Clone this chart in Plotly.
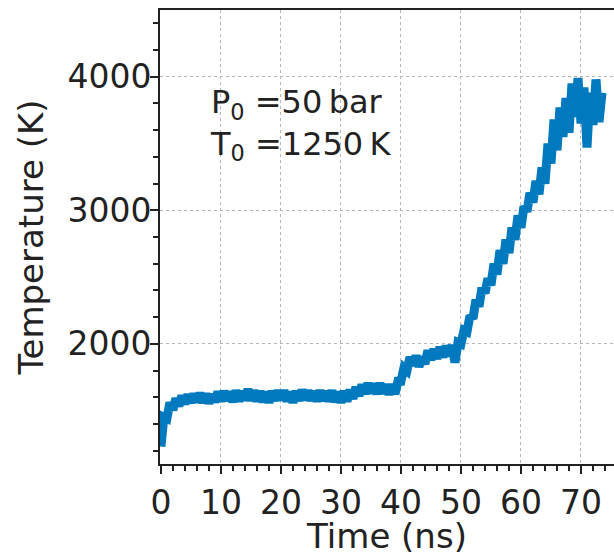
import plotly.graph_objects as go

time_ns = [i * 0.5 for i in range(148)]
temperature_K = [
    1230, 1450, 1440, 1560, 1505, 1590, 1535, 1610, 1550, 1620,
    1560, 1625, 1565, 1630, 1560, 1625, 1555, 1620, 1565, 1640,
    1570, 1645, 1575, 1640, 1565, 1650, 1570, 1645, 1580, 1660,
    1575, 1650, 1570, 1645, 1565, 1640, 1560, 1645, 1575, 1650,
    1580, 1650, 1570, 1640, 1560, 1645, 1575, 1655, 1580, 1650,
    1575, 1645, 1570, 1650, 1575, 1645, 1570, 1650, 1565, 1640,
    1560, 1645, 1570, 1655, 1590, 1675, 1610, 1695, 1625, 1705,
    1630, 1700, 1625, 1705, 1630, 1695, 1620, 1695, 1625, 1720,
    1720, 1820, 1800, 1900, 1840, 1910, 1830, 1900, 1850, 1950,
    1880, 1960, 1890, 1975, 1900, 1985, 1910, 1990, 1860, 2010,
    2000, 2100, 2090, 2210, 2190, 2330, 2280, 2420, 2380, 2490,
    2440, 2600, 2520, 2700, 2600, 2780, 2680, 2870, 2780, 2960,
    2870, 3030, 2990, 3130, 3060, 3220, 3120, 3320, 3200, 3500,
    3350, 3680, 3450, 3770, 3550, 3840, 3580, 3950, 3700, 3990,
    3650, 3920, 3470, 3880, 3640, 3980, 3660, 3880,
]

x_ticks = [0, 10, 20, 30, 40, 50, 60, 70]
y_ticks = [2000, 3000, 4000]
annotation_text = "P<sub>0</sub> =50\u2009bar<br>T<sub>0</sub> =1250\u2009K"

FONT = "DejaVu Sans"
INK = "#222222"
BLUE = "#0079bf"

fig = go.Figure()
fig.add_trace(go.Scatter(
    x=time_ns, y=temperature_K, mode="lines",
    line=dict(color=BLUE, width=9, simplify=False), showlegend=False,
))

axis_common = dict(
    showline=True, linecolor=INK, linewidth=2,
    ticks="outside", ticklen=8, tickwidth=1.5, tickcolor=INK,
    showgrid=True, gridcolor="#b5b5b5", griddash="dot", gridwidth=1,
    zeroline=False,
    tickfont=dict(family=FONT, size=33, color=INK),
    title_font=dict(family=FONT, size=34, color=INK),
)

fig.update_xaxes(
    **axis_common,
    range=[-0.15, 75.5], tickvals=x_ticks, mirror=True,
    minor=dict(dtick=2, ticks="outside", ticklen=5, tickcolor=INK, showgrid=False),
    title_text="Time (ns)", title_standoff=8,
)
fig.update_yaxes(
    **axis_common,
    range=[1100, 4500], tickvals=y_ticks, ticklabelstandoff=-8,
    minor=dict(dtick=200, tick0=0, ticks="outside", ticklen=5, tickcolor=INK, showgrid=False),
    title_text="Temperature (K)", title_standoff=14,
)

fig.add_annotation(
    x=0.105, y=0.747, xref="paper", yref="paper",
    xanchor="left", yanchor="middle", align="left", showarrow=False,
    text=annotation_text, font=dict(family=FONT, size=32, color=INK),
)

fig.update_layout(
    width=614, height=556,
    margin=dict(l=160, r=0, t=10, b=92),
    plot_bgcolor="white", paper_bgcolor="white",
)

fig.write_html("out.html")
